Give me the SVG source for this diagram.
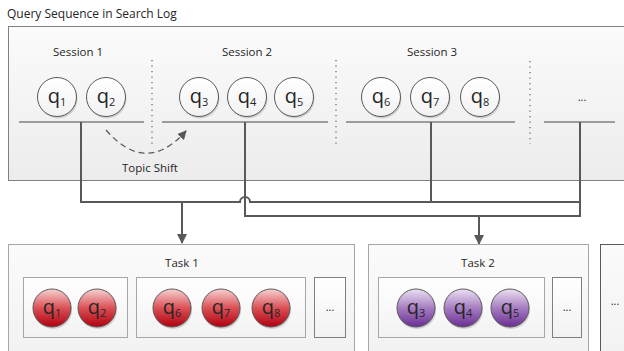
<svg xmlns="http://www.w3.org/2000/svg" width="624" height="351" viewBox="0 0 624 351">
<defs>
  <linearGradient id="gTop" x1="0" y1="0" x2="0" y2="1">
    <stop offset="0" stop-color="#fbfbfb"/>
    <stop offset="1" stop-color="#ececec"/>
  </linearGradient>
  <linearGradient id="gBot" x1="0" y1="0" x2="0" y2="1">
    <stop offset="0" stop-color="#fbfbfb"/>
    <stop offset="1" stop-color="#f1f1f1"/>
  </linearGradient>
  <linearGradient id="gWhite" x1="0" y1="0" x2="0" y2="1">
    <stop offset="0" stop-color="#ffffff"/>
    <stop offset="1" stop-color="#f2f2f2"/>
  </linearGradient>
  <linearGradient id="gRed" x1="0" y1="0" x2="0" y2="1">
    <stop offset="0" stop-color="#f6d2d2"/>
    <stop offset="0.5" stop-color="#db5055"/>
    <stop offset="1" stop-color="#b10010"/>
  </linearGradient>
  <linearGradient id="gPurple" x1="0" y1="0" x2="0" y2="1">
    <stop offset="0" stop-color="#ece0f2"/>
    <stop offset="0.5" stop-color="#a67dc1"/>
    <stop offset="1" stop-color="#6a2d94"/>
  </linearGradient>
  <marker id="arr" viewBox="0 0 10 10" refX="9" refY="5" markerWidth="5" markerHeight="5.5" orient="auto" markerUnits="strokeWidth">
    <path d="M0,0 L10,5 L0,10 z" fill="#595959"/>
  </marker>
  <marker id="arrS" viewBox="0 0 10 10" refX="9" refY="5" markerWidth="7" markerHeight="7" orient="auto" markerUnits="strokeWidth">
    <path d="M0,0 L10,5 L0,10 z" fill="#595959"/>
  </marker>
</defs>
<style>
  text { font-family: "Open Sans", "Liberation Sans", sans-serif; fill: #262626; }
  .lbl { font-size: 11.5px; text-anchor: middle; }
  .q { font-size: 20px; text-anchor: middle; }
  .sub { font-size: 11px; }
  .qc { fill: url(#gWhite); stroke: #595959; stroke-width: 1; }
  .rc { fill: url(#gRed); stroke: #595959; stroke-width: 1; }
  .pc { fill: url(#gPurple); stroke: #595959; stroke-width: 1; }
  .sh { fill: #d0d0d0; }
  .sline { stroke: #7f7f7f; stroke-width: 1.3; fill: none; }
  .dots { stroke: #7f7f7f; stroke-width: 1.5; stroke-dasharray: 1.2 4.3; fill: none; }
  .conn { stroke: #595959; stroke-width: 2; fill: none; }
  .inner { fill: url(#gWhite); stroke: #a6a6a6; stroke-width: 1; }
  .more { fill: url(#gWhite); stroke: #7f7f7f; stroke-width: 1; }
  .dotsTxt { font-size: 11px; text-anchor: middle; }
</style>

<text x="7" y="18" style="font-size:12px">Query Sequence in Search Log</text>

<g id="search-log">
  <rect x="8.5" y="26.5" width="630" height="154" fill="url(#gTop)" stroke="#808080" stroke-width="1"/>
  <text class="lbl" x="78" y="56">Session 1</text>
  <text class="lbl" x="247" y="56">Session 2</text>
  <text class="lbl" x="432" y="56">Session 3</text>
  <line class="sline" x1="19" y1="122" x2="144" y2="122"/>
  <line class="sline" x1="162" y1="122" x2="328" y2="122"/>
  <line class="sline" x1="346" y1="122" x2="515" y2="122"/>
  <line class="sline" x1="544" y1="122" x2="615" y2="122"/>
  <line class="dots" x1="152" y1="60" x2="152" y2="144"/>
  <line class="dots" x1="336" y1="60" x2="336" y2="144"/>
  <line class="dots" x1="530" y1="61" x2="530" y2="144"/>
  <text class="dotsTxt" x="582" y="101">...</text>
</g>

<g id="topic-shift">
  <path d="M106,130 Q146,176 186,131" fill="none" stroke="#595959" stroke-width="1.3" stroke-dasharray="6 4" marker-end="url(#arrS)"/>
  <text class="lbl" x="150" y="172">Topic Shift</text>
</g>

<g id="q1-top"><circle class="sh" cx="58" cy="99" r="19.5"/><circle class="qc" cx="57" cy="97" r="19.5"/><text class="q" x="57" y="103">q<tspan class="sub" dy="3">1</tspan></text></g>
<g id="q2-top"><circle class="sh" cx="107" cy="99" r="19.5"/><circle class="qc" cx="106" cy="97" r="19.5"/><text class="q" x="106" y="103">q<tspan class="sub" dy="3">2</tspan></text></g>
<g id="q3-top"><circle class="sh" cx="200" cy="99" r="19.5"/><circle class="qc" cx="199" cy="97" r="19.5"/><text class="q" x="199" y="103">q<tspan class="sub" dy="3">3</tspan></text></g>
<g id="q4-top"><circle class="sh" cx="248" cy="99" r="19.5"/><circle class="qc" cx="247" cy="97" r="19.5"/><text class="q" x="247" y="103">q<tspan class="sub" dy="3">4</tspan></text></g>
<g id="q5-top"><circle class="sh" cx="295" cy="99" r="19.5"/><circle class="qc" cx="294" cy="97" r="19.5"/><text class="q" x="294" y="103">q<tspan class="sub" dy="3">5</tspan></text></g>
<g id="q6-top"><circle class="sh" cx="382" cy="99" r="19.5"/><circle class="qc" cx="381" cy="97" r="19.5"/><text class="q" x="381" y="103">q<tspan class="sub" dy="3">6</tspan></text></g>
<g id="q7-top"><circle class="sh" cx="431" cy="99" r="19.5"/><circle class="qc" cx="430" cy="97" r="19.5"/><text class="q" x="430" y="103">q<tspan class="sub" dy="3">7</tspan></text></g>
<g id="q8-top"><circle class="sh" cx="481" cy="99" r="19.5"/><circle class="qc" cx="480" cy="97" r="19.5"/><text class="q" x="480" y="103">q<tspan class="sub" dy="3">8</tspan></text></g>

<g id="connectors">
  <path class="conn" d="M81,122 V202 H240 A5,5 0 0 1 250,202 H580" stroke-width="1.8"/>
  <path class="conn" d="M431,122 V202"/>
  <path class="conn" d="M245,122 V216 H580 V122"/>
  <path class="conn" d="M182,202 V243" marker-end="url(#arr)"/>
  <path class="conn" d="M479,216 V244" marker-end="url(#arr)"/>
</g>

<g id="task1">
  <rect x="8.5" y="244.5" width="346" height="120" fill="url(#gBot)" stroke="#a6a6a6"/>
  <text class="lbl" x="182" y="267">Task 1</text>
  <rect class="inner" x="23.5" y="277.5" width="104" height="60"/>
  <rect class="inner" x="136.5" y="277.5" width="169" height="60"/>
  <rect class="more" x="314.5" y="277.5" width="31" height="60"/>
  <text class="dotsTxt" x="330" y="311">...</text>
</g>
<g id="q1-t1"><circle class="sh" cx="53" cy="310" r="19"/><circle class="rc" cx="52" cy="308" r="19"/><text class="q" x="52" y="314">q<tspan class="sub" dy="3">1</tspan></text></g>
<g id="q2-t1"><circle class="sh" cx="98" cy="310" r="19"/><circle class="rc" cx="97" cy="308" r="19"/><text class="q" x="97" y="314">q<tspan class="sub" dy="3">2</tspan></text></g>
<g id="q6-t1"><circle class="sh" cx="173" cy="310" r="19"/><circle class="rc" cx="172" cy="308" r="19"/><text class="q" x="172" y="314">q<tspan class="sub" dy="3">6</tspan></text></g>
<g id="q7-t1"><circle class="sh" cx="222" cy="310" r="19"/><circle class="rc" cx="221" cy="308" r="19"/><text class="q" x="221" y="314">q<tspan class="sub" dy="3">7</tspan></text></g>
<g id="q8-t1"><circle class="sh" cx="272" cy="310" r="19"/><circle class="rc" cx="271" cy="308" r="19"/><text class="q" x="271" y="314">q<tspan class="sub" dy="3">8</tspan></text></g>

<g id="task2">
  <rect x="368.5" y="244.5" width="220" height="120" fill="url(#gBot)" stroke="#a6a6a6"/>
  <text class="lbl" x="478" y="267">Task 2</text>
  <rect class="inner" x="378.5" y="277.5" width="166" height="60"/>
  <rect class="more" x="552.5" y="277.5" width="29" height="60"/>
  <text class="dotsTxt" x="567" y="311">...</text>
</g>
<g id="q3-t2"><circle class="sh" cx="417" cy="310" r="19"/><circle class="pc" cx="416" cy="308" r="19"/><text class="q" x="416" y="314">q<tspan class="sub" dy="3">3</tspan></text></g>
<g id="q4-t2"><circle class="sh" cx="464" cy="310" r="19"/><circle class="pc" cx="463" cy="308" r="19"/><text class="q" x="463" y="314">q<tspan class="sub" dy="3">4</tspan></text></g>
<g id="q5-t2"><circle class="sh" cx="511" cy="310" r="19"/><circle class="pc" cx="510" cy="308" r="19"/><text class="q" x="510" y="314">q<tspan class="sub" dy="3">5</tspan></text></g>

<g id="task-more">
  <rect x="600.5" y="244.5" width="40" height="120" fill="url(#gBot)" stroke="#595959"/>
  <text class="dotsTxt" x="615" y="305">...</text>
</g>
</svg>
